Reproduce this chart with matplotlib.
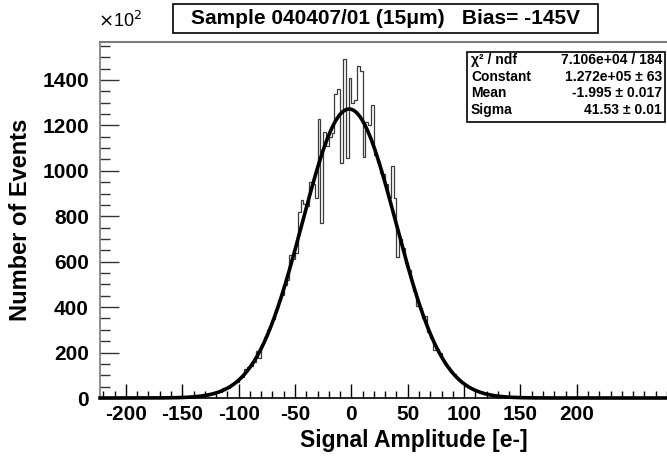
import numpy as np
import matplotlib
matplotlib.use('Agg')
import matplotlib.pyplot as plt
from matplotlib.ticker import MultipleLocator, FixedLocator
from matplotlib.patches import Rectangle

plt.rcParams['font.family'] = ['Liberation Sans', 'DejaVu Sans']
plt.rcParams['axes.unicode_minus'] = False

# ---- data (counts in units of 10^2) ----
bin_low = -150.0
bin_width = 2.5
counts = [3, 2, 5, 4, 7, 6, 9, 11, 11, 16,
          18, 19, 27, 27, 44, 46, 44, 58, 66, 71,
          88, 94, 128, 135, 139, 160, 205, 178, 236, 268,
          300, 322, 346, 392, 432, 455, 496, 520, 630, 610,
          640, 820, 870, 855, 845, 950, 940, 880, 1228, 770,
          1170, 1110, 1150, 1165, 1340, 1360, 1035, 1490, 1055, 1410,
          1300, 1310, 1460, 1440, 1060, 1215, 1200, 1290, 1070, 1040,
          990, 985, 940, 880, 1020, 880, 620, 700, 660, 595,
          565, 505, 470, 405, 395, 352, 360, 292, 262, 210,
          214, 196, 166, 150, 137, 113, 104, 87, 80, 64,
          59, 49, 44, 35, 32, 25, 23, 18, 16, 14,
          10, 9, 8, 6, 5, 4, 3, 3, 2, 2]

fit_constant = 1272.0   # 1.272e+05 in units of 10^2
fit_mean = -1.995
fit_sigma = 41.53

x_ticks = [-200, -150, -100, -50, 0, 50, 100, 150, 200]
y_ticks = [0, 200, 400, 600, 800, 1000, 1200, 1400]
x_range = (-223, 280)
y_range = (0, 1567)

title = "Sample 040407/01 (15\u03bcm)   Bias= -145V"
x_title = "Signal Amplitude [e-]"
y_title = "Number of Events"
stat_names = ["\u03c7\u00b2 / ndf", "Constant", "Mean", "Sigma"]
stat_values = ["7.106e+04 / 184", "1.272e+05 \u00b1 63",
               "-1.995 \u00b1 0.017", "41.53 \u00b1 0.01"]

# ---- figure ----
W, H = 667, 462
fig = plt.figure(figsize=(W / 100, H / 100), dpi=100)
fig.patch.set_facecolor('white')

def fx(px):
    return px / W

def fy(py):
    return 1 - py / H

ax_l, ax_t, ax_r, ax_b = 100, 42, 667, 398
ax = fig.add_axes([fx(ax_l), fy(ax_b), (ax_r - ax_l) / W, (ax_b - ax_t) / H])

edges = bin_low + bin_width * np.arange(len(counts) + 1)
ax.stairs(counts, edges, color='#3a3a3a', linewidth=0.9)

xs = np.linspace(x_range[0], x_range[1], 1200)
ys = fit_constant * np.exp(-0.5 * ((xs - fit_mean) / fit_sigma) ** 2)
ax.plot(xs, ys, color='black', linewidth=2.6, clip_on=False, zorder=5)

ax.set_xlim(*x_range)
ax.set_ylim(*y_range)

ax.spines['right'].set_visible(False)
ax.spines['top'].set_color('#7a7a7a')
ax.spines['top'].set_linewidth(1.5)
ax.spines['left'].set_color('#7a7a7a')
ax.spines['left'].set_linewidth(1.2)
ax.spines['bottom'].set_color('black')
ax.spines['bottom'].set_linewidth(1.2)

tick_font = {'family': 'Liberation Sans', 'weight': 'bold', 'size': 15}
ax.xaxis.set_major_locator(FixedLocator(x_ticks))
ax.xaxis.set_minor_locator(MultipleLocator(10))
ax.yaxis.set_major_locator(FixedLocator(y_ticks))
ax.yaxis.set_minor_locator(MultipleLocator(50))
ax.tick_params(axis='x', which='major', direction='in', length=10, width=1,
               color='black', pad=5)
ax.tick_params(axis='x', which='minor', direction='in', length=5, width=1, color='black')
ax.tick_params(axis='y', which='major', direction='in', length=14, width=1,
               color='#333333', pad=8)
ax.tick_params(axis='y', which='minor', direction='in', length=7, width=1, color='#333333')
ax.tick_params(top=False, right=False, which='both')
ax.set_xticks(x_ticks)
ax.set_xticklabels([str(v) for v in x_ticks], fontdict=tick_font)
ax.set_yticks(y_ticks)
ax.set_yticklabels([str(v) for v in y_ticks], fontdict=tick_font)

fig.text(fx(414), fy(441), x_title, fontsize=16.5, fontweight='bold',
         ha='center', va='center')
fig.text(fx(21), fy(220), y_title, rotation=90, fontsize=17, fontweight='bold',
         ha='center', va='center')

# exponent marker
fig.text(fx(98), fy(21), r'$\times$10$^{2}$', fontsize=13, ha='left', va='center',
         math_fontfamily='dejavusans')

# title box
fig.patches.append(Rectangle((fx(173), fy(33)), (598 - 173) / W, (33 - 4) / H,
                             transform=fig.transFigure, facecolor='white',
                             edgecolor='black', linewidth=1.2))
fig.text(fx(385), fy(18.5), title, fontsize=15, fontweight='bold',
         ha='center', va='center')

# stats box
sb_l, sb_t, sb_r, sb_b = 467, 52, 665, 122
fig.patches.append(Rectangle((fx(sb_l), fy(sb_b)), (sb_r - sb_l) / W, (sb_b - sb_t) / H,
                             transform=fig.transFigure, facecolor='white',
                             edgecolor='black', linewidth=1.2, zorder=10))
row_y = [60, 77, 93, 110]
for name, val, yy in zip(stat_names, stat_values, row_y):
    fig.text(fx(sb_l + 4), fy(yy), name, fontsize=10, fontweight='bold',
             ha='left', va='center', zorder=11)
    fig.text(fx(sb_r - 3), fy(yy), val, fontsize=10, fontweight='bold',
             ha='right', va='center', zorder=11)

fig.savefig('out.png', dpi=100)
